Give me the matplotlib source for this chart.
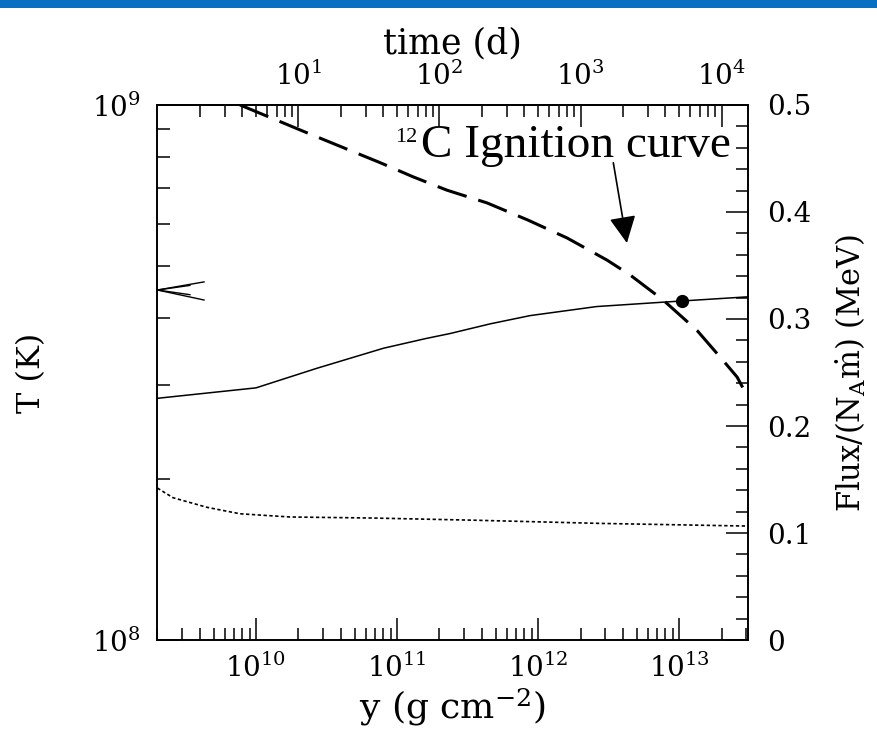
import numpy as np
import matplotlib.pyplot as plt
from matplotlib.patches import Rectangle
from matplotlib.ticker import FixedLocator, NullFormatter, MultipleLocator, LogFormatterSciNotation

plt.rcParams['font.family'] = ['DejaVu Serif']
plt.rcParams['mathtext.fontset'] = 'dejavuserif'

# 12C ignition curve: column depth y (g cm^-2) vs T (K)
ign_y = [7.7e9, 2.4e10, 7.6e10, 1.30e11, 2.26e11, 4.35e11, 8.4e11, 1.61e12, 3.08e12,
         4.5e12, 7.7e12, 1.34e13, 2.05e13, 2.58e13, 3.08e13]
ign_T = [1.0e9, 8.83e8, 7.8e8, 7.34e8, 6.93e8, 6.56e8, 6.1e8, 5.64e8, 5.13e8,
         4.81e8, 4.32e8, 3.79e8, 3.33e8, 3.10e8, 2.84e8]

# temperature profile (solid)
temp_y = [2.0e9, 1.0e10, 2.7e10, 8.0e10, 1.6e11, 2.38e11, 4.6e11, 8.8e11, 2.6e12, 7.7e12, 3.08e13]
temp_T = [2.83e8, 2.96e8, 3.22e8, 3.51e8, 3.66e8, 3.74e8, 3.90e8, 4.04e8, 4.20e8, 4.28e8, 4.38e8]

# ignition point
ign_pt_y = [1.05e13]
ign_pt_T = [4.3e8]

# flux (dotted, right axis)
flux_y = [2.0e9, 2.58e9, 4.5e9, 7.7e9, 1.74e10, 6.8e10, 3.46e11, 2.75e12, 3.08e13]
flux_v = [0.142, 0.133, 0.124, 0.118, 0.115, 0.114, 0.112, 0.109, 0.1065]

# small chevron mark on the left axis
chev_y = [4.28e9, 2.0e9, 4.28e9]
chev_T = [4.67e8, 4.51e8, 4.32e8]
chev2_y = [3.4e9, 2.0e9, 3.4e9]
chev2_T = [4.6e8, 4.51e8, 4.42e8]

time_ticks = [1e1, 1e2, 1e3, 1e4]

fig = plt.figure(figsize=(8.77, 7.34), dpi=100)
fig.add_artist(Rectangle((0, 1 - 8 / 734), 1, 8 / 734, transform=fig.transFigure,
                         color='#0770c0', lw=0))

ax = fig.add_axes([0.179, 0.128, 0.674, 0.729])
ax.set_xscale('log')
ax.set_yscale('log')
ax.set_xlim(10 ** 9.298, 10 ** 13.489)
ax.set_ylim(1e8, 1e9)

ax.plot(ign_y, ign_T, color='k', lw=2.2, dashes=(10, 4))
ax.plot(temp_y, temp_T, color='k', lw=1.1)
ax.plot(ign_pt_y, ign_pt_T, 'o', color='k', ms=8.5)
ax.plot(chev_y, chev_T, color='k', lw=1.0)
ax.plot(chev2_y, chev2_T, color='k', lw=1.0)

ax2 = ax.twinx()
ax2.set_ylim(0, 0.5)
ax2.plot(flux_y, flux_v, color='k', lw=1.2, dashes=(2, 1.5))
ax2.yaxis.set_major_locator(MultipleLocator(0.1))
ax2.yaxis.set_minor_locator(MultipleLocator(0.02))
ax2.yaxis.set_major_formatter(plt.FuncFormatter(lambda v, p: '0' if abs(v) < 1e-9 else f'{v:.1f}'))

# top axis: time in days
secax = ax.secondary_xaxis('top', functions=(lambda y: y / 2e9, lambda t: t * 2e9))
secax.xaxis.set_major_locator(FixedLocator(time_ticks))
minor_t = [m * 10 ** e for e in range(0, 5) for m in range(2, 10) if m * 10 ** e < 1.6e4]
secax.xaxis.set_minor_locator(FixedLocator(minor_t))
secax.xaxis.set_major_formatter(LogFormatterSciNotation())
secax.xaxis.set_minor_formatter(NullFormatter())

ax.yaxis.set_minor_formatter(NullFormatter())
ax.xaxis.set_minor_formatter(NullFormatter())

ax.tick_params(which='both', direction='in', top=False, right=False, labelsize=20, width=1.1)
ax.tick_params(axis='x', which='major', length=15.8, pad=10)
ax.tick_params(axis='x', which='minor', length=8.6)
ax.tick_params(axis='y', which='major', length=15.8, pad=12)
ax.tick_params(axis='y', which='minor', length=9.4)
ax2.tick_params(which='both', direction='in', labelsize=20, width=1.1)
ax2.tick_params(which='major', length=15.8, pad=14)
ax2.tick_params(which='minor', length=8.6)
secax.tick_params(which='both', direction='in', labelsize=20, width=1.1)
secax.tick_params(which='major', length=15.8, pad=10)
secax.tick_params(which='minor', length=8.6)

for a in (ax, ax2):
    for s in a.spines.values():
        s.set_linewidth(1.2)
secax.spines['top'].set_linewidth(1.2)

ax.set_xlabel(r'y (g cm$^{-2}$)', fontsize=26, labelpad=2)
ax.set_ylabel('T (K)', fontsize=23, labelpad=32)
ax2.set_ylabel(r'Flux/(N$_{\rm A}\dot{\rm m}$) (MeV)', fontsize=22, labelpad=16)
secax.set_xlabel('time (d)', fontsize=25, labelpad=6)

# annotation
ax.text(0.403, 0.931, '12', transform=ax.transAxes, family='Liberation Serif', fontsize=16,
        ha='left', va='baseline')
ax.text(0.447, 0.903, 'C Ignition curve', transform=ax.transAxes, family='Liberation Serif',
        fontsize=34, ha='left', va='baseline')
ax.annotate('', xy=(0.795, 0.742), xytext=(0.772, 0.892), xycoords='axes fraction',
            arrowprops=dict(arrowstyle='-|>,head_length=0.83,head_width=0.41',
                            mutation_scale=20, lw=1.2, color='k', shrinkA=0, shrinkB=0))

fig.savefig('out.png', dpi=100)
